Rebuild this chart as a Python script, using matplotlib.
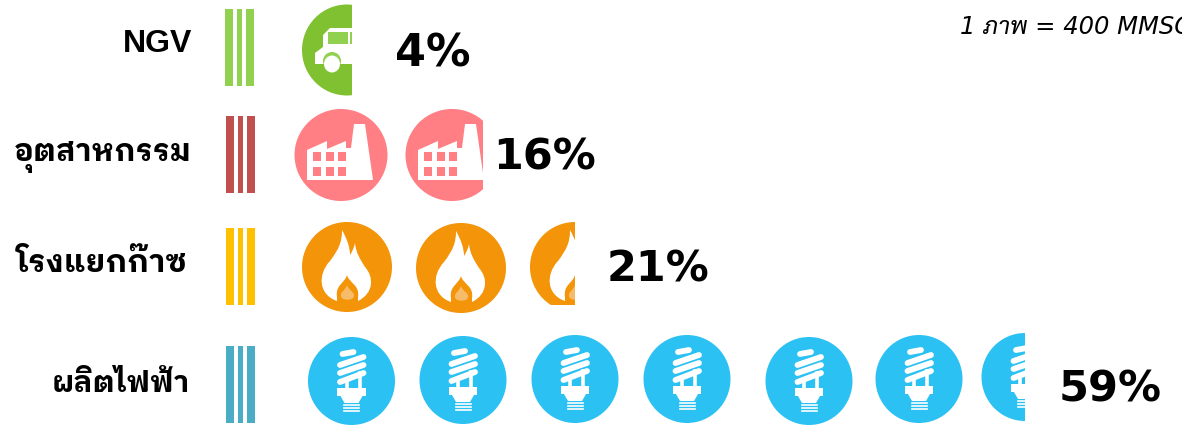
import math
import matplotlib
matplotlib.use("Agg")
import matplotlib.pyplot as plt
from matplotlib.patches import Ellipse, PathPatch, Polygon, Rectangle
from matplotlib.path import Path

categories = ['NGV', 'อุตสาหกรรม', 'โรงแยกก๊าซ', 'ผลิตไฟฟ้า']
shares = [4, 16, 21, 59]
# number of pictures per row, 1 picture = 400 MMSCFD
icon_counts = [0.55, 1.83, 2.5, 6.5]
note = '1 ภาพ = 400 MMSCFD'

# layout, in pixels of the 1182x425 picture
icon_x = [[347], [341, 452], [347, 461, 575], [351.5, 463, 575, 687, 809, 919, 1025]]
icon_y = [[50], [155, 155], [267, 268, 267], [381, 380, 379, 379, 381, 379, 377]]
icon_rx = [45, 46.5, 45, 43.5]
icon_ry = [45.5, 46, 45, 44]
clip_bottom = [None, None, 305, None]
bar_left = [225, 226, 226, 226]
bar_top = [9, 116, 228, 346]
bar_h = 77
stripes = [(0, 7.5), (11.5, 5.5), (20.5, 8.5)]
label_right = [192, 192, 188, 190]
label_base = [52, 161, 272, 392]
label_size = [23, 22, 22.6, 21.3]
share_x = [395, 493, 607, 1059]
share_base = [66, 169, 282, 402]
share_size = [32, 31, 31, 31]

bar_colors = ['#92D050', '#C0504D', '#FFC000', '#4BACC6']
icon_colors = ['#80C132', '#FF7F84', '#F39409', '#2BC1F2']
light_colors = ['#92D050', None, '#F6BC6A', None]

thai_bold = ['Liberation Sans', 'IBM Plex Sans Thai Looped', 'Sarabun', 'DejaVu Sans']
thai_italic = ['DejaVu Sans', 'Sarabun', 'Bai Jamjuree']

fig = plt.figure(figsize=(11.82, 4.25), dpi=100)
ax = fig.add_axes([0, 0, 1, 1])
ax.set_xlim(0, 1182)
ax.set_ylim(425, 0)
ax.axis('off')


def poly(points, color, cx, cy):
    return Polygon([(cx + p[0], cy + p[1]) for p in points], closed=True, fc=color, ec='none')


def curve(start, segments, color, cx, cy):
    # segments are cubic beziers, three points each
    verts = [(cx + start[0], cy + start[1])]
    codes = [Path.MOVETO]
    for s in segments:
        for p in s:
            verts.append((cx + p[0], cy + p[1]))
        if len(s) == 3:
            codes += [Path.CURVE4] * 3
        else:
            codes += [Path.LINETO]
    return PathPatch(Path(verts, codes), fc=color, ec='none')


def truck(cx, cy):
    body = [(-32, 14), (-32, 3), (-24, -3), (-24, -15), (-17, -22), (20, -22), (20, 14)]
    parts = [poly(body, 'white', cx, cy)]
    parts.append(Rectangle((cx - 19, cy - 18), 20, 12, fc=light_colors[0], ec='none'))
    parts.append(Rectangle((cx + 3, cy - 18), 17, 12, fc=light_colors[0], ec='none'))
    parts.append(Ellipse((cx - 15, cy + 11), 18, 18, fc=light_colors[0], ec='none'))
    parts.append(Ellipse((cx - 15, cy + 14), 16, 17, fc='white', ec='none'))
    parts.append(Rectangle((cx - 32, cy + 14), 8, 7, fc=icon_colors[0], ec='none'))
    return parts


def factory(cx, cy):
    body = [(-34, 25), (-34, -5), (-14, -14), (-14, -6), (5, -14), (5, -7), (10, -7),
            (13, -31), (24, -31), (32, 25)]
    parts = [poly(body, 'white', cx, cy)]
    for wy in [-3, 12]:
        for wx in [-28, -15, -3]:
            parts.append(Rectangle((cx + wx, cy + wy), 8, 9, fc=icon_colors[1], ec='none'))
    return parts


def flame(cx, cy):
    outer = [[(0, -28), (3, -20), (3, -12)], [(5, -15), (7, -19), (8, -24)],
             [(9, -14), (13, -8), (18, 0)], [(27, 10), (27, 26), (11, 34)], [(-10, 34)],
             [(-28, 28), (-30, 8), (-17, -6)], [(-8, -18), (-5, -25), (-5, -37)]]
    inner = [[(2, 16), (13, 18), (11, 30)], [(11, 34)], [(-10, 34)], [(-10, 30)],
             [(-12, 18), (-2, 16), (0, 8)]]
    core = [[(2, 24), (8, 25), (7, 29)], [(7, 34), (-6, 34), (-6, 29)], [(-7, 25), (-2, 24), (0, 18)]]
    return [curve((-5, -37), outer, 'white', cx, cy),
            curve((0, 8), inner, icon_colors[2], cx, cy),
            curve((0, 18), core, light_colors[2], cx, cy)]


def bulb(cx, cy):
    parts = []
    coil = [((-9, -27), (2, -29)), ((-11.5, -16), (12, -24)), ((-11.5, -8), (12, -16)),
            ((-11.5, 1), (12, -8))]
    for a, b in coil:
        parts += ax.plot([cx + a[0], cx + b[0]], [cy + a[1], cy + b[1]], color='white',
                         lw=4.2, solid_capstyle='round')
    for a, b in [((8, -8), (8, 7)), ((-5, 0), (-5, 7))]:
        parts += ax.plot([cx + a[0], cx + b[0]], [cy + a[1], cy + b[1]], color='white', lw=2.6)
    parts.append(Rectangle((cx - 14.5, cy + 7), 28.5, 8, fc='white', ec='none'))
    parts.append(poly([(-11, 15), (11, 15), (7, 22), (-7, 22)], 'white', cx, cy))
    for ty in [23.5, 26.5, 29.5]:
        parts += ax.plot([cx - 7.5, cx + 7.5], [cy + ty, cy + ty], color='white', lw=1.2)
    return parts


icon_funcs = [truck, factory, flame, bulb]

for i, cat in enumerate(categories):
    for left, width in stripes:
        ax.bar(bar_left[i] + left, bar_h, width=width, bottom=bar_top[i], align='edge',
               color=bar_colors[i])

    n = math.ceil(icon_counts[i])
    frac = icon_counts[i] - (n - 1)
    for j in range(n):
        cx = icon_x[i][j]
        cy = icon_y[i][j]
        rx = icon_rx[i]
        ry = icon_ry[i]
        parts = [Ellipse((cx, cy), 2 * rx, 2 * ry, fc=icon_colors[i], ec='none')]
        parts += icon_funcs[i](cx, cy)
        # the last picture of a row is only partly shown
        if j == n - 1:
            box_r = cx - rx + frac * 2 * rx
            box_b = clip_bottom[i] if clip_bottom[i] else cy + ry + 5
            box = Rectangle((cx - rx - 5, cy - ry - 5), box_r - (cx - rx - 5), box_b - (cy - ry - 5),
                            transform=ax.transData)
        else:
            box = None
        for p in parts:
            if p.axes is None:
                ax.add_artist(p)
            if box is not None:
                p.set_clip_path(box)

    ax.text(label_right[i], label_base[i], cat, ha='right', va='baseline', fontsize=label_size[i],
            fontweight='bold', family=thai_bold, color='black')
    ax.text(share_x[i], share_base[i], str(shares[i]) + '%', ha='left', va='baseline',
            fontsize=share_size[i], fontweight='bold', color='black')

ax.text(960, 34, note, ha='left', va='baseline', fontsize=17.5, style='italic', family=thai_italic,
        color='black', clip_on=False)

fig.savefig('out.png', dpi=100)
